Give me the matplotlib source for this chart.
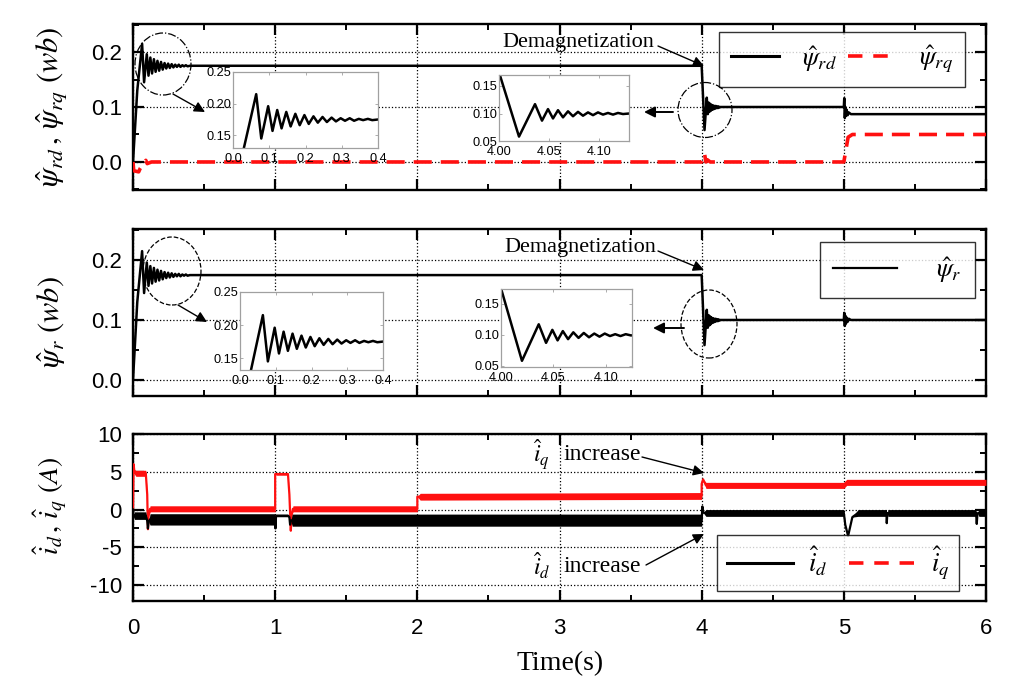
import matplotlib
matplotlib.use('Agg')
import matplotlib.pyplot as plt
import numpy as np
from matplotlib.lines import Line2D
from matplotlib.patches import Ellipse
from matplotlib.transforms import IdentityTransform
from matplotlib.ticker import MultipleLocator, FormatStrFormatter

plt.rcParams['font.family'] = ['Liberation Sans', 'DejaVu Sans']
plt.rcParams['mathtext.fontset'] = 'stix'
plt.rcParams['axes.unicode_minus'] = False

# ---------------- data ----------------
x_ticks = [0, 1, 2, 3, 4, 5, 6]

# start-up transient of the rotor flux (0 .. 0.4 s)
psi_start_t = [0.0, 0.03, 0.064, 0.078, 0.097, 0.109, 0.122, 0.134, 0.147, 0.159,
               0.172, 0.184, 0.197, 0.209, 0.222, 0.234, 0.247, 0.259, 0.272, 0.284,
               0.297, 0.309, 0.322, 0.334, 0.347, 0.359, 0.372, 0.384, 0.4]
psi_start_v = [0.0, 0.13, 0.215, 0.145, 0.196, 0.157, 0.19, 0.161, 0.187, 0.164,
               0.184, 0.166, 0.182, 0.168, 0.180, 0.170, 0.179, 0.171, 0.178, 0.172,
               0.177, 0.173, 0.177, 0.173, 0.176, 0.174, 0.176, 0.174, 0.175]

# demagnetization transient (4.0 .. 4.13 s)
psi_demag_t = [4.0, 4.02, 4.036, 4.043, 4.049, 4.054, 4.059, 4.064, 4.069, 4.074,
               4.079, 4.084, 4.089, 4.094, 4.099, 4.104, 4.109, 4.114, 4.119, 4.124, 4.13]
psi_demag_v = [0.175, 0.058, 0.117, 0.087, 0.108, 0.091, 0.106, 0.093, 0.104, 0.095,
               0.103, 0.096, 0.102, 0.097, 0.102, 0.098, 0.101, 0.098, 0.101, 0.099, 0.1]

# after 5 s
psi_rd_tail_t = [5.0, 5.003, 5.007, 5.011, 5.015, 5.02, 5.027, 5.035, 5.05, 6.0]
psi_rd_tail_v = [0.1, 0.116, 0.08, 0.1, 0.084, 0.095, 0.085, 0.09, 0.087, 0.087]
psi_r_tail_t = [5.0, 5.003, 5.007, 5.011, 5.015, 5.02, 5.027, 5.035, 5.05, 6.0]
psi_r_tail_v = [0.1, 0.112, 0.09, 0.107, 0.094, 0.104, 0.097, 0.102, 0.1, 0.1]

psi_rq_t = [0.0, 0.005, 0.04, 0.05, 0.07, 0.09, 0.1, 0.13, 4.0, 4.01, 4.02, 4.03,
            4.04, 4.06, 5.0, 5.03, 5.06, 6.0]
psi_rq_v = [0.0, -0.016, -0.018, -0.012, -0.004, 0.003, -0.003, 0.0, 0.0, 0.008,
            0.015, 0.0, 0.004, 0.0, 0.0, 0.045, 0.05, 0.05]

# currents: centre value and half-width of the ripple band
iq_t = [0.0, 0.004, 0.01, 0.02, 0.09, 0.1, 0.105, 0.11, 0.12, 1.0, 1.0, 1.01, 1.09,
        1.1, 1.11, 1.115, 1.125, 2.0, 2.0, 2.02, 4.0, 4.0, 4.01, 4.03, 5.0, 5.02, 6.0]
iq_v = [0.0, 6.0, 5.0, 4.8, 4.8, 2.0, -2.6, -0.8, 0.1, 0.1, 4.7, 4.7, 4.7,
        2.0, -2.8, -0.8, 0.1, 0.1, 1.7, 1.7, 1.8, 3.4, 4.0, 3.2, 3.2, 3.6, 3.6]
iq_n = [0.0, 0.0, 0.3, 0.4, 0.4, 0.0, 0.0, 0.0, 0.4, 0.4, 0.0, 0.15, 0.15,
        0.0, 0.0, 0.0, 0.4, 0.4, 0.0, 0.45, 0.45, 0.0, 0.0, 0.4, 0.4, 0.4, 0.4]

id_t = [0.0, 0.005, 0.01, 0.09, 0.1, 0.105, 0.11, 0.12, 1.0, 1.002, 1.006, 1.01,
        1.09, 1.1, 1.105, 1.11, 1.12, 4.0, 4.005, 4.01, 4.03, 5.0, 5.01, 5.03, 5.06,
        5.1, 5.3, 5.302, 5.306, 5.31, 5.93, 5.935, 5.94, 5.95, 6.0]
id_v = [0.0, -1.0, -0.8, -0.8, -1.5, -2.5, -1.6, -1.3, -1.3, -2.5, -0.9, -0.8,
        -0.8, -1.0, -2.0, -1.5, -1.4, -1.4, 0.4, -0.4, -0.45, -0.45, -2.0, -3.5, -1.0,
        -0.45, -0.45, -1.8, -0.5, -0.45, -0.45, -1.9, -0.5, -0.45, -0.45]
id_n = [0.0, 0.0, 0.5, 0.5, 0.0, 0.0, 0.0, 0.75, 0.75, 0.0, 0.0, 0.15,
        0.15, 0.0, 0.0, 0.0, 0.8, 0.8, 0.0, 0.0, 0.45, 0.45, 0.0, 0.0, 0.0,
        0.45, 0.45, 0.0, 0.0, 0.45, 0.45, 0.0, 0.0, 0.45, 0.45]

# ---------------- figure ----------------
W, H = 1024, 691
fig = plt.figure(figsize=(W / 100, H / 100), dpi=100)

def box(x0, y0, x1, y1):
    return [x0 / W, 1 - y1 / H, (x1 - x0) / W, (y1 - y0) / H]

ax1 = fig.add_axes(box(133, 24, 986, 190))
ax2 = fig.add_axes(box(133, 229, 986, 396))
ax3 = fig.add_axes(box(133, 434, 986, 601))

psi_rd_t = psi_start_t + psi_demag_t + psi_rd_tail_t
psi_rd_v = psi_start_v + psi_demag_v + psi_rd_tail_v
psi_r_t = psi_start_t + psi_demag_t + psi_r_tail_t
psi_r_v = psi_start_v + psi_demag_v + psi_r_tail_v

RED = '#ff1010'

ax1.plot(psi_rd_t, psi_rd_v, color='k', lw=1.8, zorder=3)
ax1.plot(psi_rq_t, psi_rq_v, color=RED, lw=2.6, ls=(0, (5, 2.5)), zorder=3)
ax2.plot(psi_r_t, psi_r_v, color='k', lw=1.8, zorder=3)

iq_v_a, iq_n_a = np.array(iq_v), np.array(iq_n)
id_v_a, id_n_a = np.array(id_v), np.array(id_n)
ax3.fill_between(iq_t, iq_v_a - iq_n_a, iq_v_a + iq_n_a, color=RED, lw=0, zorder=3)
ax3.plot(iq_t, iq_v, color=RED, lw=1.6, zorder=3)
ax3.fill_between(id_t, id_v_a - id_n_a, id_v_a + id_n_a, color='k', lw=0, zorder=4)
ax3.plot(id_t, id_v, color='k', lw=1.6, zorder=4)

for ax in (ax1, ax2, ax3):
    ax.set_xlim(0, 6)
    ax.set_xticks(x_ticks)
    ax.xaxis.set_minor_locator(MultipleLocator(0.5))
    ax.grid(True, which='major', ls=':', color='k', lw=0.9, zorder=1)
    ax.tick_params(which='both', direction='in', top=True, right=True)
    ax.tick_params(which='major', length=8, width=1.6, labelsize=16, pad=8)
    ax.tick_params(which='minor', length=4.5, width=1.4)
    for s in ax.spines.values():
        s.set_linewidth(1.7)

ax1.set_ylim(-0.051, 0.251)
ax1.set_yticks([0.0, 0.1, 0.2])
ax1.yaxis.set_minor_locator(MultipleLocator(0.05))
ax1.yaxis.set_major_formatter(FormatStrFormatter('%.1f'))
ax2.set_ylim(-0.027, 0.252)
ax2.set_yticks([0.0, 0.1, 0.2])
ax2.yaxis.set_minor_locator(MultipleLocator(0.05))
ax2.yaxis.set_major_formatter(FormatStrFormatter('%.1f'))
ax3.set_ylim(-12.1, 10)
ax3.set_yticks([-10, -5, 0, 5, 10])
ax3.yaxis.set_minor_locator(MultipleLocator(2.5))
ax1.tick_params(axis='x', labelbottom=False)
ax2.tick_params(axis='x', labelbottom=False)
ax3.tick_params(axis='x', which='major', pad=12)

# axis labels
fig.text(52 / W, 1 - 107 / H, r'$\hat{\psi}_{rd}\,,\,\hat{\psi}_{rq}\ (wb)$', rotation=90,
         ha='center', va='center', fontsize=22)
fig.text(52 / W, 1 - 322 / H, r'$\hat{\psi}_{r}\ (wb)$', rotation=90,
         ha='center', va='center', fontsize=22)
fig.text(50 / W, 1 - 506 / H, r'$\hat{i}_{d}\,,\,\hat{i}_{q}\ (A)$', rotation=90,
         ha='center', va='center', fontsize=20)
fig.text(560 / W, 1 - 664 / H, 'Time(s)', family='Liberation Serif', fontsize=20,
         ha='center', va='center')

# legends
h_solid = Line2D([], [], color='k', lw=2.2)
h_dash = Line2D([], [], color=RED, lw=2.6, ls=(0, (4, 3)))
lg1 = ax1.legend([h_solid, h_dash], [r'$\hat{\psi}_{rd}$', r'$\hat{\psi}_{rq}$'],
                 loc='upper right', bbox_to_anchor=(0.975, 0.952), ncol=2,
                 fontsize=19, frameon=True, fancybox=False, edgecolor='k',
                 handlelength=1.8, handletextpad=0.9, columnspacing=0.4,
                 borderaxespad=0, borderpad=0.45)
lg1.get_frame().set_linewidth(1.0)
lg2 = ax2.legend([Line2D([], [], color='k', lw=1.6)], [r'$\hat{\psi}_{r}$'],
                 loc='upper right', bbox_to_anchor=(0.987, 0.922),
                 fontsize=19, frameon=True, fancybox=False, edgecolor='k',
                 handlelength=2.4, handletextpad=1.5, borderaxespad=0, borderpad=0.5)
lg2.get_frame().set_linewidth(1.0)
h_dash3 = Line2D([], [], color=RED, lw=2.6, ls=(0, (4, 3)))
lg3 = ax3.legend([Line2D([], [], color='k', lw=2.2), h_dash3],
                 [r'$\hat{i}_{d}$', r'$\hat{i}_{q}$'],
                 loc='lower right', bbox_to_anchor=(0.968, 0.06), ncol=2,
                 fontsize=19, frameon=True, fancybox=False, edgecolor='k',
                 handlelength=2.5, handletextpad=0.6, columnspacing=0.8,
                 borderaxespad=0, borderpad=0.35)
lg3.get_frame().set_linewidth(1.0)

# insets
def inset(rect, t, v, xlim, ylim, xt, yt, xfmt, yfmt):
    a = fig.add_axes(box(*rect))
    a.plot(t, v, color='k', lw=1.8)
    a.set_xlim(*xlim)
    a.set_ylim(*ylim)
    a.set_xticks(xt)
    a.set_yticks(yt)
    a.xaxis.set_major_formatter(FormatStrFormatter(xfmt))
    a.yaxis.set_major_formatter(FormatStrFormatter(yfmt))
    a.tick_params(direction='in', length=2.5, width=0.6, color='#a0a0a0',
                  labelsize=9.2, pad=1.5, top=True, right=True)
    a.tick_params(axis='x', pad=3.5)
    for s in a.spines.values():
        s.set_color('#a0a0a0')
        s.set_linewidth(0.9)
    a.set_zorder(5)
    return a

inset((233, 72, 378, 148), psi_start_t, psi_start_v, (0, 0.4), (0.13, 0.25),
      [0, 0.1, 0.2, 0.3, 0.4], [0.15, 0.20, 0.25], '%.1f', '%.2f')
inset((499, 75, 629, 141), psi_demag_t, psi_demag_v, (4.0, 4.13), (0.05, 0.17),
      [4.0, 4.05, 4.10], [0.05, 0.10, 0.15], '%.2f', '%.2f')
inset((240, 292, 383, 370), psi_start_t, psi_start_v, (0, 0.4), (0.132, 0.25),
      [0, 0.1, 0.2, 0.3, 0.4], [0.15, 0.20, 0.25], '%.1f', '%.2f')
inset((501, 289, 632, 367), psi_demag_t, psi_demag_v, (4.0, 4.125), (0.048, 0.174),
      [4.0, 4.05, 4.10], [0.05, 0.10, 0.15], '%.2f', '%.2f')

# circles
for (cx, cy, w, h, ls) in [(163, 64, 56, 62, '-.'), (705, 110, 54, 55, '-.'),
                           (172, 271, 58, 68, '--'), (709, 324, 56, 68, '--')]:
    fig.add_artist(Ellipse((cx, H - cy), w, h, transform=IdentityTransform(),
                           fill=False, ls=ls, lw=0.9, ec='k', zorder=6))

# arrows (figure pixels)
def arrow(p0, p1, lw=1.0):
    fig.add_artist(matplotlib.patches.FancyArrowPatch(
        (p0[0], H - p0[1]), (p1[0], H - p1[1]), transform=IdentityTransform(),
        arrowstyle='-|>', mutation_scale=16, lw=lw, color='k', zorder=7,
        shrinkA=0, shrinkB=0))

arrow((173, 94), (205, 112))
arrow((673, 112), (644, 112), lw=1.4)
arrow((178, 305), (207, 322))
arrow((684, 328), (653, 328), lw=1.4)
arrow((658, 46), (704, 66))
arrow((658, 251), (704, 270))
arrow((642, 457), (704, 473))
arrow((646, 565), (704, 534))

ser = 'Liberation Serif'
fig.text(578 / W, 1 - 43 / H, 'Demagnetization', family=ser, fontsize=16,
         ha='center', va='center')
fig.text(580 / W, 1 - 247 / H, 'Demagnetization', family=ser, fontsize=16,
         ha='center', va='center')
fig.text(533 / W, 1 - 455 / H, r'$\hat{i}_q$', fontsize=17, ha='left', va='center')
fig.text(563 / W, 1 - 455 / H, 'increase', family=ser, fontsize=17, ha='left', va='center')
fig.text(533 / W, 1 - 566 / H, r'$\hat{i}_d$', fontsize=17, ha='left', va='center')
fig.text(563 / W, 1 - 566 / H, 'increase', family=ser, fontsize=17, ha='left', va='center')

fig.savefig('out.png', dpi=100)
